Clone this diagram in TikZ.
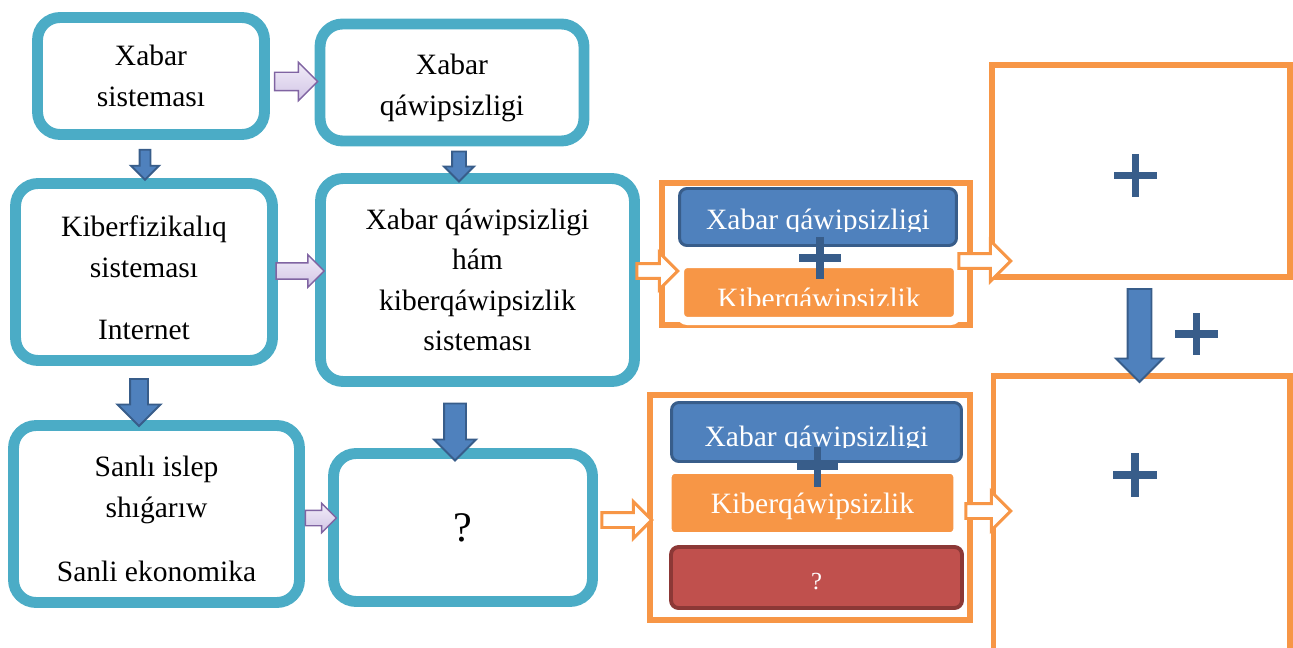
\documentclass[tikz,border=0pt]{standalone}
\usepackage{fontspec}
\setmainfont{Liberation Serif}
\usetikzlibrary{shapes.arrows, shadows}

\definecolor{tealframe}{HTML}{4BACC6}
\definecolor{orangeframe}{HTML}{F79646}
\definecolor{bluefill}{HTML}{4F81BD}
\definecolor{blueline}{HTML}{385D8A}
\definecolor{redfill}{HTML}{C0504D}
\definecolor{redline}{HTML}{8C3836}
\definecolor{lilacline}{HTML}{8064A2}
\definecolor{lilactop}{HTML}{F1ECF8}
\definecolor{lilacbot}{HTML}{D2C5E6}

\tikzset{
  sysbox/.style={draw=tealframe, line width=6.2pt, rounded corners=0.45cm, fill=white,
    align=center, font=\fontsize{16.8}{23}\selectfont},
  outbox/.style={draw=orangeframe, line width=3.1pt, fill=white,
    drop shadow={opacity=0.25, shadow xshift=0.6pt, shadow yshift=-1.6pt}},
  qbox/.style={draw=blueline, line width=1.7pt, fill=bluefill, rounded corners=0.15cm},
  kbox/.style={draw=white, line width=4.6pt, fill=orangeframe, rounded corners=0.15cm,
    drop shadow={opacity=0.3, shadow xshift=0pt, shadow yshift=-1.2pt}},
  rbox/.style={draw=redline, line width=2.2pt, fill=redfill, rounded corners=0.15cm},
  intext/.style={text=white, font=\fontsize{16.8}{23}\selectfont, inner sep=0pt, anchor=base},
  plusline/.style={draw=blueline, line width=4.3pt},
  % length, head extend, half shaft width
  arrowdims/.style n args={3}{single arrow, inner xsep=0pt, inner ysep=#3,
    minimum height=#1, minimum width=0pt, single arrow head extend=#2},
  lilacarrow/.style={draw=lilacline, line width=0.8pt, top color=lilactop, bottom color=lilacbot},
  bluearrow/.style={draw=blueline, line width=1.1pt, fill=bluefill, rotate=-90},
  hollowarrow/.style={draw=orangeframe, line width=1.7pt, fill=white},
}

\begin{document}
\begin{tikzpicture}[x=0.02cm, y=-0.02cm]
\useasboundingbox (0,0) rectangle (1293,648);

% teal system boxes
\node[sysbox, minimum width=4.54cm, minimum height=2.34cm] (xs) at (151,76) {Xabar\\sisteması};
\node[sysbox, minimum width=5.28cm, minimum height=2.34cm] (xq) at (452,82.5)
  {\rule{0pt}{0.62cm}Xabar\\qáwipsizligi};
\node[sysbox, minimum width=5.14cm, minimum height=3.54cm] (kf) at (144,272)
  {\rule{0pt}{0.66cm}Kiberfizikalıq\\sisteması\\[0.44cm]Internet};
\node[sysbox, minimum width=6.28cm, minimum height=4.06cm] (xk) at (477.5,280)
  {Xabar qáwipsizligi\\hám\\kiberqáwipsizlik\\sisteması};
\node[sysbox, minimum width=5.72cm, minimum height=3.54cm] (si) at (156.5,514)
  {\rule{0pt}{0.62cm}Sanlı islep\\shıǵarıw\\[0.48cm]Sanli ekonomika};
\node[sysbox, minimum width=5.18cm, minimum height=2.96cm, font=\fontsize{24}{28}\selectfont]
  (qm) at (463,527.5) {?};

% orange frames
\node[outbox, minimum width=6.16cm, minimum height=2.84cm] (sec1) at (816,254) {};
\node[outbox, minimum width=6.40cm, minimum height=4.50cm] (sec2) at (810,507.5) {};
\node[outbox, minimum width=5.96cm, minimum height=4.24cm] (res1) at (1141,171) {};
\node[outbox, minimum width=5.93cm, minimum height=6.28cm] (res2) at (1141.75,533) {};

% first frame
\node[qbox, minimum width=5.54cm, minimum height=1.14cm] (sec1q) at (818,217) {};
\begin{scope}
  \clip (sec1q.north west) rectangle (958,232);
  \node[intext] (sec1qt) at (818,230) {Xabar qáwipsizligi};
\end{scope}
\node[kbox, minimum width=5.56cm, minimum height=1.14cm] (sec1k) at (819,292.5) {};
\begin{scope}
  \clip (sec1k.north west) rectangle (960,305);
  \node[intext] (sec1kt) at (819,308) {Kiberqáwipsizlik};
\end{scope}
\draw[plusline] (799,258) -- (841,258) (820,237) -- (820,279);

% second frame
\node[qbox, minimum width=5.80cm, minimum height=1.18cm] (sec2q) at (816.5,432) {};
\begin{scope}
  \clip (sec2q.north west) rectangle (963,447);
  \node[intext] (sec2qt) at (816.5,446) {Xabar qáwipsizligi};
\end{scope}
\node[kbox, minimum width=5.80cm, minimum height=1.33cm] (sec2k) at (812.5,503) {};
\node[intext] (sec2kt) at (812.5,513) {Kiberqáwipsizlik};
\node[rbox, minimum width=5.82cm, minimum height=1.22cm] (sec2r) at (816.5,577.5) {};
\node[intext, font=\fontsize{14}{16}\selectfont] (sec2rt) at (816.5,589) {?};
\draw[plusline] (797,466) -- (838,466) (817.5,447) -- (817.5,487);

% plus signs on the right
\draw[plusline] (1114,175.5) -- (1157,175.5) (1135.5,154) -- (1135.5,197);
\draw[plusline] (1175,334) -- (1218,334) (1196.5,313) -- (1196.5,355);
\draw[plusline] (1113,475) -- (1157,475) (1135,453) -- (1135,497);

% arrows
\node[lilacarrow, arrowdims={0.86cm}{0.20cm}{0.17cm}] (xs2xq) at (291.5,81.5) {};
\node[lilacarrow, arrowdims={0.96cm}{0.16cm}{0.15cm}] (kf2xk) at (296,271) {};
\node[lilacarrow, arrowdims={0.62cm}{0.14cm}{0.14cm}] (si2qm) at (317,518) {};
\node[bluearrow, arrowdims={0.60cm}{0.17cm}{0.09cm}] (xs2kf) at (145,162) {};
\node[bluearrow, arrowdims={0.60cm}{0.16cm}{0.12cm}] (xq2xk) at (459,163) {};
\node[bluearrow, arrowdims={0.94cm}{0.25cm}{0.16cm}] (kf2si) at (139,398) {};
\node[bluearrow, arrowdims={1.14cm}{0.20cm}{0.20cm}] (xk2qm) at (455,426.5) {};
\node[bluearrow, arrowdims={1.86cm}{0.23cm}{0.22cm}] (res1to2) at (1139.5,329.5) {};
\node[hollowarrow, arrowdims={0.82cm}{0.22cm}{0.12cm}] (xk2sec1) at (653.5,271) {};
\node[hollowarrow, arrowdims={1.04cm}{0.26cm}{0.12cm}] (sec1res1) at (981,261) {};
\node[hollowarrow, arrowdims={1.00cm}{0.22cm}{0.12cm}] (qm2sec2) at (623,520) {};
\node[hollowarrow, arrowdims={0.90cm}{0.24cm}{0.12cm}] (sec2res2) at (984.5,511) {};
\end{tikzpicture}
\end{document}
